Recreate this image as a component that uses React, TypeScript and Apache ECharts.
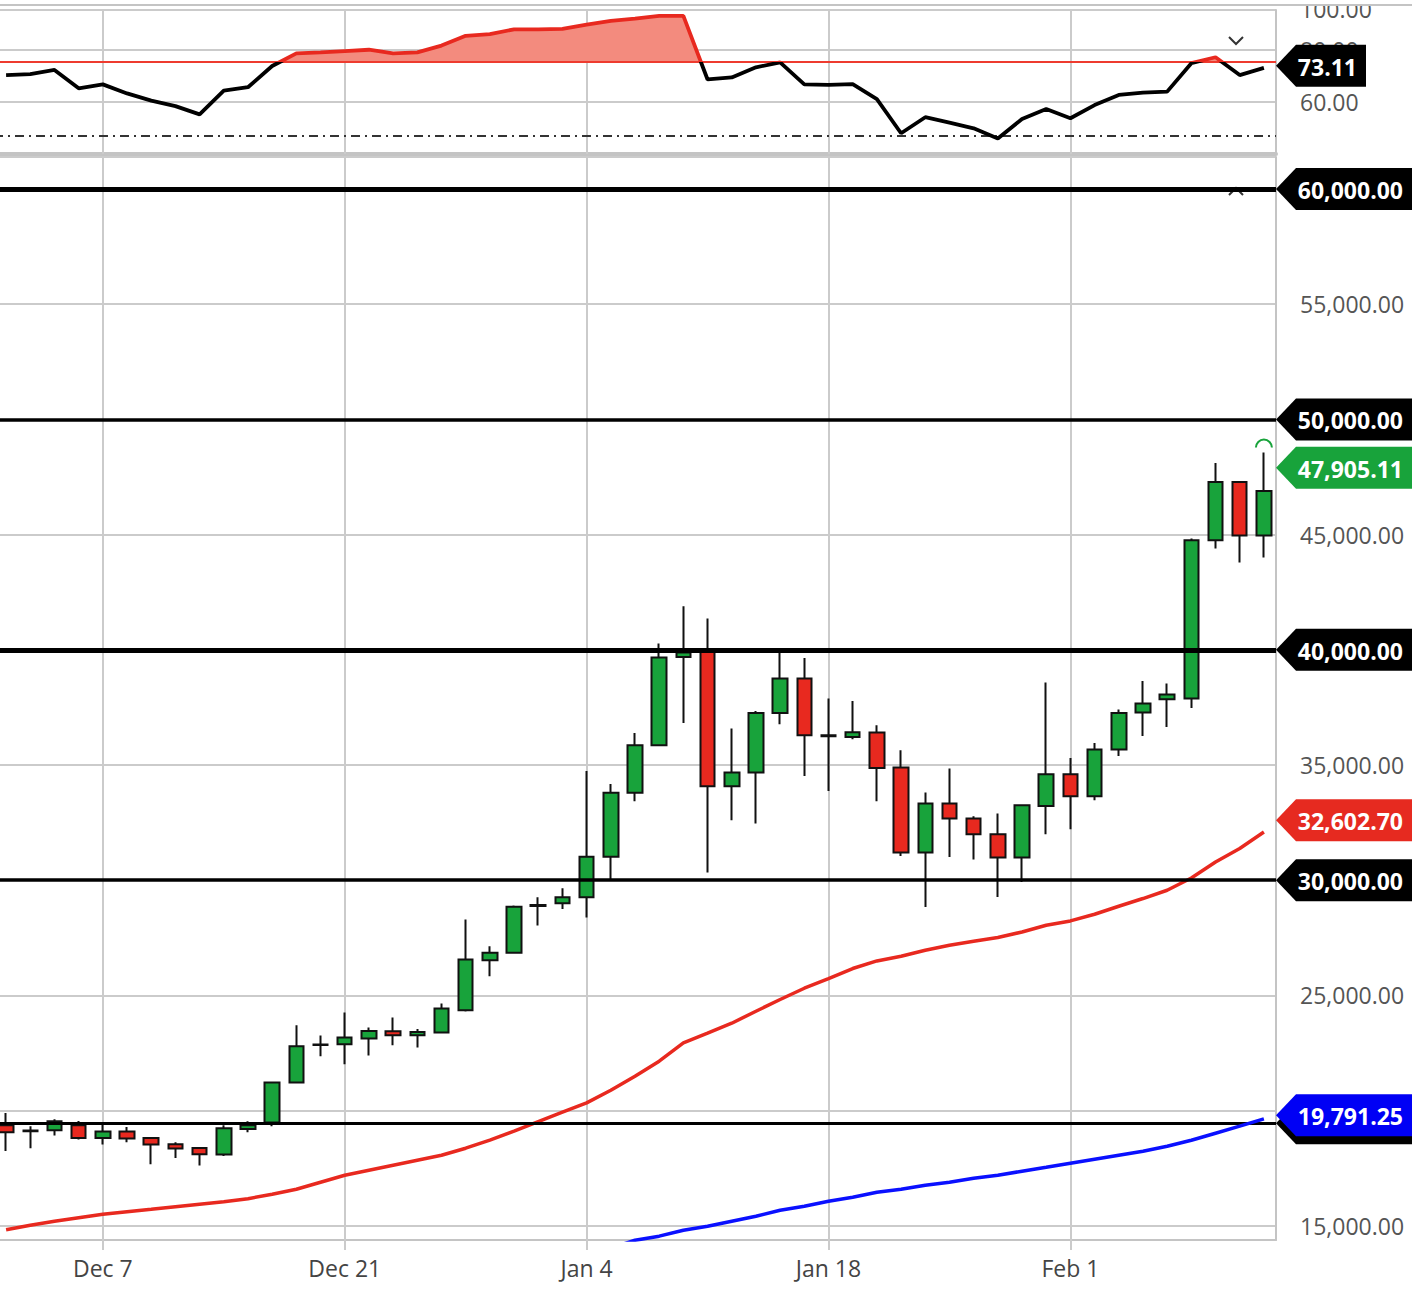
import React, { useEffect, useRef } from "react";
import * as echarts from "echarts";

const FONT = '"Open Sans", "Noto Sans", sans-serif';

const dates = [
  "Dec 1", "Dec 2", "Dec 3", "Dec 4", "Dec 7", "Dec 8", "Dec 9", "Dec 10", "Dec 11",
  "Dec 14", "Dec 15", "Dec 16", "Dec 17", "Dec 18", "Dec 21", "Dec 22", "Dec 23", "Dec 24", "Dec 25",
  "Dec 28", "Dec 29", "Dec 30", "Dec 31", "Jan 1", "Jan 4", "Jan 5", "Jan 6", "Jan 7", "Jan 8",
  "Jan 11", "Jan 12", "Jan 13", "Jan 14", "Jan 15", "Jan 18", "Jan 19", "Jan 20", "Jan 21", "Jan 22",
  "Jan 25", "Jan 26", "Jan 27", "Jan 28", "Jan 29", "Feb 1", "Feb 2", "Feb 3", "Feb 4", "Feb 5",
  "Feb 8", "Feb 9", "Feb 10", "Feb 11",
];

const xTickLabels = ["Dec 7", "Dec 21", "Jan 4", "Jan 18", "Feb 1"];

const candleOpen = [
  19362, 19130, 19145, 19362, 18811, 19089, 18811, 18537, 18377, 18090, 19201, 19479, 21215, 22840,
  22878, 23125, 23442, 23268, 23385, 24357, 26527, 26844, 28880, 28997, 29257, 31020, 33797, 35854,
  39686, 39903, 34074, 34669, 37256, 38749, 36290, 36214, 36405, 34886, 31197, 33324, 32673, 31992,
  30980, 33220, 34596, 33641, 35667, 37273, 37854, 37880, 44750, 47282, 44955,
];
const candleClose = [
  19058, 19100, 19536, 18811, 19089, 18785, 18524, 18351, 18103, 19232, 19362, 21215, 22791, 22870,
  23168, 23455, 23268, 23411, 24427, 26557, 26844, 28841, 28920, 29257, 31020, 33797, 35854, 39660,
  39877, 34074, 34669, 37256, 38749, 36288, 36250, 36418, 34869, 31197, 33324, 32673, 31992, 30980,
  33250, 34596, 33641, 35667, 37256, 37664, 38058, 44750, 47282, 44955, 46896,
];
const candleLow = [
  18247, 18364, 18915, 18741, 18524, 18624, 17669, 17943, 17613, 18030, 19058, 19319, 21200, 22356,
  22009, 22388, 22834, 22734, 23350, 24300, 25833, 26800, 28033, 28750, 28380, 30052, 33424, 35810,
  36822, 30329, 32599, 32456, 36765, 34522, 33871, 36114, 33424, 31050, 28836, 31006, 30893, 29270,
  29921, 31992, 32209, 33468, 35390, 36258, 36650, 37477, 44391, 43783, 44000,
];
const candleHigh = [
  19896, 19319, 19623, 19549, 19405, 19288, 18854, 18624, 18420, 19362, 19536, 21259, 23702, 23254,
  24253, 23603, 24036, 23541, 24644, 28293, 27135, 28902, 29262, 29648, 34740, 34175, 36388, 40268,
  41887, 41353, 36579, 37343, 39903, 39643, 37881, 37777, 36722, 35637, 33801, 34843, 32772, 32889,
  33294, 38575, 35303, 35954, 37403, 38645, 38535, 44825, 48106, 47300, 48557,
];

const redMa = [
  14827, 15022, 15196, 15348, 15499, 15608, 15716, 15825, 15933, 16042, 16172, 16367, 16584, 16888,
  17192, 17409, 17626, 17843, 18060, 18364, 18711, 19102, 19514, 19926, 20330, 20881, 21489, 22140,
  22934, 23355, 23789, 24310, 24817, 25308, 25729, 26163, 26493, 26697, 26957, 27174, 27348, 27508,
  27751, 28042, 28229, 28519, 28866, 29201, 29561, 30095, 30789, 31371, 32091,
];
const blueMa = [
  null, null, null, null, null, null, null, null, null, null, null, null, null, null, null, null, null,
  null, null, null, null, null, null, null, null,
  14023, 14371, 14545, 14805, 14979, 15196, 15413, 15673, 15847, 16064, 16237, 16454, 16584, 16758,
  16888, 17062, 17192, 17366, 17539, 17713, 17886, 18060, 18234, 18451, 18711, 19015, 19319, 19640,
];

const rsi = [
  70.3, 70.7, 72.3, 65.2, 66.7, 63.2, 60.4, 58.3, 55.1, 64.3, 65.6, 73.8, 78.7, 79.1, 79.6, 80.1,
  78.7, 79.1, 81.7, 85.5, 86.1, 88.0, 88.0, 88.2, 89.8, 91.3, 92.1, 93.2, 93.2, 68.6, 69.4, 73.3,
  75.2, 66.7, 66.5, 66.8, 61.0, 47.8, 54.0, 51.9, 49.7, 45.8, 53.3, 57.2, 53.6, 58.7, 62.6, 63.5,
  63.9, 74.9, 77.2, 70.3, 73.11,
];
const rsiUpper = 75.5;
const rsiLower = 46.8;
const rsiTickLabels = [60, 80];
const rsiTopLabel = "100.00";

const priceLevels = [60000, 50000, 40000, 30000, 19450];
const levelWidths = [5, 3.5, 5, 3.5, 3];

const lastPrice = 47905.11;
const redMaLast = 32602.7;
const blueMaLast = 19791.25;
const rsiLast = 73.11;

const GREEN = "#18a33b";
const RED = "#e8291f";
const BLUE = "#0a10ff";
const GRID_GRAY = "#cbcbcb";

// the chart canvas starts 6px left of the page edge so that the first candle is cut off
const OFFSET = 6;
const CHART_W = 1420 + OFFSET;
const GRID_RIGHT = 144;
const TIP = CHART_W - GRID_RIGHT;

const fmt2 = (v: number) =>
  v.toLocaleString("en-US", { minimumFractionDigits: 2, maximumFractionDigits: 2 });

const isTick = (_i: number, v: string) => xTickLabels.indexOf(v) >= 0;

export default function App() {
  const ref = useRef<HTMLDivElement>(null);

  useEffect(() => {
    document.body.style.margin = "0";
    document.body.style.overflow = "hidden";
    if (!ref.current) return;
    const chart = echarts.init(ref.current, undefined, { renderer: "svg" });

    const verticalGrid = {
      silent: true,
      z: 1,
      symbol: ["none", "none"],
      label: { show: false },
      emphasis: { disabled: true },
      lineStyle: { color: GRID_GRAY, width: 2, type: "solid" },
      data: xTickLabels.map((d) => ({ xAxis: d })),
    };

    const option: any = {
      animation: false,
      backgroundColor: "#ffffff",
      textStyle: { fontFamily: FONT },
      grid: [
        { left: 0, right: GRID_RIGHT, top: 10, height: 144 },
        { left: 0, right: GRID_RIGHT, top: 157, bottom: 54 },
      ],
      xAxis: [
        {
          type: "category",
          gridIndex: 0,
          data: dates,
          boundaryGap: true,
          axisLine: { show: true, onZero: false, lineStyle: { color: "#c4c4c4", width: 4 } },
          axisTick: { show: false },
          axisLabel: { show: false },
          splitLine: { show: false },
        },
        {
          type: "category",
          gridIndex: 1,
          data: dates,
          boundaryGap: true,
          axisLine: { show: true, onZero: false, lineStyle: { color: "#c4c4c4", width: 2 } },
          axisTick: {
            show: true,
            alignWithLabel: true,
            interval: isTick,
            length: 10,
            lineStyle: { color: GRID_GRAY, width: 2 },
          },
          axisLabel: { interval: isTick, color: "#444", fontSize: 23, margin: 16, fontFamily: FONT },
          splitLine: { show: false },
        },
      ],
      yAxis: [
        {
          type: "value",
          gridIndex: 0,
          position: "right",
          min: 39.77,
          max: 95.47,
          splitNumber: 3,
          minInterval: 20,
          maxInterval: 20,
          axisLine: { show: true, onZero: false, lineStyle: { color: "#c4c4c4", width: 2 } },
          axisTick: { show: false },
          axisLabel: {
            color: "#555",
            fontSize: 23,
            margin: 24,
            fontFamily: FONT,
            showMinLabel: false,
            showMaxLabel: false,
            formatter: (v: number) => (rsiTickLabels.indexOf(v) >= 0 ? v.toFixed(2) : ""),
          },
          splitLine: { show: true, lineStyle: { color: GRID_GRAY, width: 2 } },
        },
        {
          type: "value",
          gridIndex: 1,
          position: "right",
          min: 14379,
          max: 61389,
          splitNumber: 9,
          minInterval: 5000,
          maxInterval: 5000,
          axisLine: { show: true, onZero: false, lineStyle: { color: "#c4c4c4", width: 2 } },
          axisTick: { show: false },
          axisLabel: {
            color: "#555",
            fontSize: 23,
            margin: 24,
            fontFamily: FONT,
            showMinLabel: false,
            showMaxLabel: false,
            formatter: (v: number) => fmt2(v),
          },
          splitLine: { show: true, lineStyle: { color: GRID_GRAY, width: 2 } },
        },
      ],
      visualMap: [
        {
          type: "piecewise",
          show: false,
          seriesIndex: 0,
          dimension: 1,
          pieces: [
            { gte: 0, lte: rsiUpper, color: "rgba(255,255,255,0)" },
            { gt: rsiUpper, lte: 100, color: "#f38b7e" },
          ],
        },
        {
          type: "piecewise",
          show: false,
          seriesIndex: 1,
          dimension: 1,
          pieces: [
            { gte: 0, lte: rsiUpper, color: "#000000" },
            { gt: rsiUpper, lte: 100, color: RED },
          ],
        },
      ],
      series: [
        {
          name: "RSI area",
          type: "line",
          xAxisIndex: 0,
          yAxisIndex: 0,
          data: rsi,
          showSymbol: false,
          silent: true,
          z: 2,
          lineStyle: { width: 0 },
          areaStyle: { origin: rsiUpper, opacity: 1 },
          markLine: {
            silent: true,
            z: 3,
            symbol: ["none", "none"],
            label: { show: false },
            emphasis: { disabled: true },
            data: [
              { yAxis: rsiUpper, lineStyle: { color: "#ee3b2f", width: 2, type: "solid" } },
              { yAxis: rsiLower, lineStyle: { color: "#333", width: 2, type: [9, 5, 2, 5] } },
            ],
          },
        },
        {
          name: "RSI",
          type: "line",
          xAxisIndex: 0,
          yAxisIndex: 0,
          data: rsi,
          showSymbol: false,
          silent: true,
          z: 4,
          lineStyle: { width: 3.8 },
          markLine: verticalGrid,
        },
        {
          name: "Price",
          type: "candlestick",
          xAxisIndex: 1,
          yAxisIndex: 1,
          data: dates.map((_, i) => [candleOpen[i], candleClose[i], candleLow[i], candleHigh[i]]),
          barWidth: 15,
          silent: true,
          itemStyle: {
            color: GREEN,
            color0: RED,
            borderColor: "#111",
            borderColor0: "#111",
            borderColorDoji: "#111",
            borderWidth: 2,
          },
          markLine: verticalGrid,
        },
        {
          name: "MA short",
          type: "line",
          xAxisIndex: 1,
          yAxisIndex: 1,
          data: redMa,
          showSymbol: false,
          silent: true,
          z: 3,
          lineStyle: { color: RED, width: 3.5 },
          itemStyle: { color: RED },
          markLine: {
            silent: true,
            z: 5,
            symbol: ["none", "none"],
            label: { show: false },
            emphasis: { disabled: true },
            data: priceLevels.map((v, i) => ({
              yAxis: v,
              lineStyle: { color: "#000", width: levelWidths[i], type: "solid" },
            })),
          },
        },
        {
          name: "MA long",
          type: "line",
          xAxisIndex: 1,
          yAxisIndex: 1,
          data: blueMa,
          showSymbol: false,
          silent: true,
          z: 6,
          lineStyle: { color: BLUE, width: 3.5 },
          itemStyle: { color: BLUE },
        },
      ],
    };

    chart.setOption(option);

    const yMain = (v: number) => chart.convertToPixel({ yAxisIndex: 1 }, v) as number;
    const yRsi = (v: number) => chart.convertToPixel({ yAxisIndex: 0 }, v) as number;

    let zBase = 100;
    const tag = (y: number, text: string | null, bg: string, right: number) => {
      zBase += 2;
      const els: any[] = [
        {
          type: "polygon",
          z: zBase,
          silent: true,
          shape: {
            points: [
              [TIP, y],
              [TIP + 20, y - 21],
              [right, y - 21],
              [right, y + 21],
              [TIP + 20, y + 21],
            ],
          },
          style: { fill: bg },
        },
      ];
      if (text) {
        els.push({
          type: "text",
          z: zBase + 1,
          silent: true,
          x: right - 9,
          y: y + 1,
          style: {
            text,
            fill: "#ffffff",
            font: `bold 23px ${FONT}`,
            align: "right",
            verticalAlign: "middle",
            textAlign: "right",
            textVerticalAlign: "middle",
          },
        });
      }
      return els;
    };

    const last = dates.length - 1;
    const highPt = chart.convertToPixel({ xAxisIndex: 1, yAxisIndex: 1 }, [
      dates[last],
      candleHigh[last],
    ]) as number[];

    const PRICE_RIGHT = 1412 + OFFSET;
    const RSI_RIGHT = 1366 + OFFSET;
    const CHEV_X = 1236 + OFFSET;

    const graphics: any[] = [
      {
        type: "text",
        z: 50,
        silent: true,
        x: TIP + 24,
        y: 9,
        style: {
          text: rsiTopLabel,
          fill: "#555",
          font: `23px ${FONT}`,
          align: "left",
          verticalAlign: "middle",
          textAlign: "left",
          textVerticalAlign: "middle",
        },
      },
      {
        type: "rect",
        z: 51,
        silent: true,
        shape: { x: TIP + 2, y: 0, width: 150, height: 4.5 },
        style: { fill: "#ffffff" },
      },
      {
        type: "line",
        z: 52,
        silent: true,
        shape: { x1: 0, y1: 5, x2: PRICE_RIGHT, y2: 5 },
        style: { stroke: "#c4c4c4", lineWidth: 2 },
      },
      {
        type: "polyline",
        z: 0,
        silent: true,
        shape: { points: [[CHEV_X - 7, 37], [CHEV_X, 44], [CHEV_X + 7, 37]] },
        style: { stroke: "#333", lineWidth: 2, fill: null },
      },
      {
        type: "polyline",
        z: 0,
        silent: true,
        shape: { points: [[CHEV_X - 7, 195], [CHEV_X, 188], [CHEV_X + 7, 195]] },
        style: { stroke: "#333", lineWidth: 2, fill: null },
      },
      {
        type: "arc",
        z: 50,
        silent: true,
        shape: { cx: highPt[0], cy: highPt[1] - 5, r: 8, startAngle: Math.PI, endAngle: Math.PI * 2 },
        style: { stroke: GREEN, lineWidth: 2, fill: null },
      },
      ...tag(yMain(priceLevels[4]), null, "#000000", PRICE_RIGHT),
      ...tag(yMain(blueMaLast), fmt2(blueMaLast), "#0000f5", PRICE_RIGHT),
      ...tag(yMain(redMaLast), fmt2(redMaLast), "#e62a20", PRICE_RIGHT),
      ...tag(yMain(priceLevels[3]), fmt2(priceLevels[3]), "#000000", PRICE_RIGHT),
      ...tag(yMain(priceLevels[2]), fmt2(priceLevels[2]), "#000000", PRICE_RIGHT),
      ...tag(yMain(lastPrice), fmt2(lastPrice), GREEN, PRICE_RIGHT),
      ...tag(yMain(priceLevels[1]), fmt2(priceLevels[1]), "#000000", PRICE_RIGHT),
      ...tag(yMain(priceLevels[0]), fmt2(priceLevels[0]), "#000000", PRICE_RIGHT),
      ...tag(yRsi(rsiLast) - 2, rsiLast.toFixed(2), "#000000", RSI_RIGHT),
    ];

    chart.setOption({ graphic: graphics });

    return () => {
      chart.dispose();
    };
  }, []);

  return (
    <div
      ref={ref}
      style={{ width: CHART_W, height: 1294, marginLeft: -OFFSET, position: "relative" }}
    />
  );
}
